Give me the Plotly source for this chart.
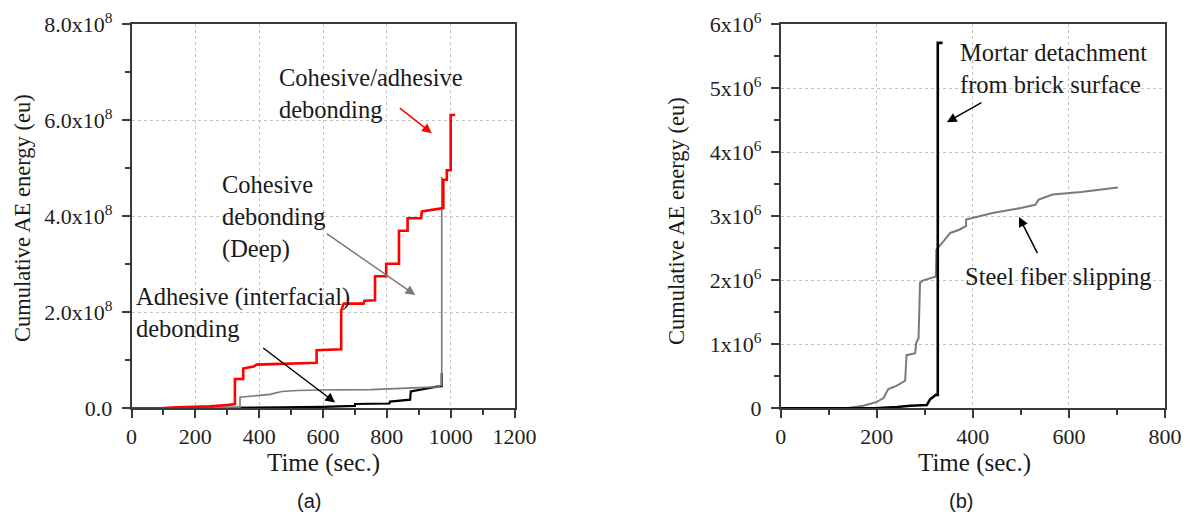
import plotly.graph_objects as go

# ---------------- data: panel (a) ----------------
t_red = [0, 100, 142, 200, 246, 300, 324, 324, 350, 350, 365, 382, 392, 480, 575, 580, 580, 651, 657, 657,
         662, 665, 727, 730, 763, 763, 798, 798, 838, 838, 865, 865, 907, 910, 977, 977, 988, 988, 1000, 1000, 1014]
e_red = [0, 0.003, 0.02, 0.03, 0.04, 0.07, 0.09, 0.61, 0.61, 0.83, 0.85, 0.87, 0.91, 0.93, 0.95, 0.95, 1.21, 1.23, 1.23, 2.04,
         2.12, 2.18, 2.18, 2.24, 2.25, 2.75, 2.75, 3.01, 3.01, 3.70, 3.70, 3.96, 3.96, 4.10, 4.17, 4.76, 4.76, 4.96, 4.96, 6.11, 6.11]

t_gray_a = [0, 200, 340, 340, 380, 434, 471, 520, 591, 748, 904, 962, 964, 970, 972, 972]
e_gray_a = [0, 0.005, 0.02, 0.23, 0.25, 0.29, 0.35, 0.37, 0.38, 0.39, 0.43, 0.45, 0.47, 0.48, 0.48, 4.82]

t_black_a = [0, 300, 470, 600, 650, 700, 700, 808, 810, 873, 875, 904, 957, 970, 972, 972, 975]
e_black_a = [0, 0.005, 0.02, 0.03, 0.04, 0.05, 0.09, 0.10, 0.14, 0.18, 0.35, 0.39, 0.45, 0.46, 0.46, 0.71, 0.71]
scale_a = 1e8

# ---------------- data: panel (b) ----------------
t_gray_b = [0, 137, 172, 200, 214, 224, 241, 259, 262, 280, 282, 287, 290, 297, 323, 324, 338, 353, 372, 386,
            386, 441, 500, 530, 537, 566, 625, 702]
e_gray_b = [0, 0, 0.04, 0.10, 0.16, 0.30, 0.35, 0.43, 0.83, 0.86, 1.02, 1.10, 1.96, 2.00, 2.06, 2.48, 2.60, 2.74, 2.79, 2.85,
            2.95, 3.05, 3.13, 3.18, 3.26, 3.34, 3.38, 3.45]

t_black_b = [0, 194, 242, 270, 304, 311, 318, 323, 327, 327, 337]
e_black_b = [0, 0, 0.02, 0.04, 0.05, 0.14, 0.18, 0.21, 0.21, 5.71, 5.71]
scale_b = 1e6

# tick labels
xticks_a = [0, 200, 400, 600, 800, 1000, 1200]
yticks_a = [0, 2, 4, 6, 8]
yticklabels_a = ["0.0", "2.0x10<sup>8</sup>", "4.0x10<sup>8</sup>", "6.0x10<sup>8</sup>", "8.0x10<sup>8</sup>"]
xticks_b = [0, 200, 400, 600, 800]
yticks_b = [0, 1, 2, 3, 4, 5, 6]
yticklabels_b = ["0"] + ["%dx10<sup>6</sup>" % v for v in yticks_b[1:]]

# page has an 8px body margin: figure is sized to fill the rest of the 1192x519 window
OFF = 8
W, H = 1192 - OFF, 519 - OFF
SERIF = "Liberation Serif"
AX = "#3a3a3a"

fig = go.Figure()
fig.add_trace(go.Scatter(x=t_black_a, y=[v * scale_a for v in e_black_a], mode="lines",
                         line=dict(color="black", width=2.2), xaxis="x", yaxis="y", showlegend=False))
fig.add_trace(go.Scatter(x=t_gray_a, y=[v * scale_a for v in e_gray_a], mode="lines",
                         line=dict(color="#7a7a7a", width=1.6), xaxis="x", yaxis="y", showlegend=False))
fig.add_trace(go.Scatter(x=t_red, y=[v * scale_a for v in e_red], mode="lines",
                         line=dict(color="#ff0000", width=2.6), xaxis="x", yaxis="y", showlegend=False))
fig.add_trace(go.Scatter(x=t_gray_b, y=[v * scale_b for v in e_gray_b], mode="lines",
                         line=dict(color="#7a7a7a", width=2), xaxis="x2", yaxis="y2", showlegend=False))
fig.add_trace(go.Scatter(x=t_black_b, y=[v * scale_b for v in e_black_b], mode="lines",
                         line=dict(color="black", width=2.6), xaxis="x2", yaxis="y2", showlegend=False))


def px(x):
    return (x - OFF) / W


def py(y):
    return 1 - (y - OFF) / H


common = dict(showline=True, linecolor=AX, linewidth=1.5, mirror=True, ticks="outside", ticklen=8,
              tickwidth=1.5, tickcolor=AX, showgrid=True, gridcolor="#c4c4c4", griddash="dot", gridwidth=1,
              zeroline=False, automargin=False, fixedrange=True,
              tickfont=dict(family=SERIF, size=22, color="#222"))
minor_style = dict(ticklen=5, tickwidth=1.5, tickcolor=AX, ticks="outside", showgrid=False)

fig.update_layout(
    template="none",
    width=W, height=H, autosize=False, margin=dict(l=0, r=0, t=0, b=0, pad=0),
    paper_bgcolor="white", plot_bgcolor="white",
    font=dict(family=SERIF, size=22, color="#222"),
    xaxis=dict(domain=[px(131.5), px(514.5)], range=[0, 1200], tickvals=xticks_a, anchor="y",
               minor=dict(dtick=100, **minor_style), **common),
    yaxis=dict(domain=[py(408.3), py(24.3)], range=[0, 8e8],
               tickvals=[v * scale_a for v in yticks_a], ticktext=yticklabels_a, anchor="x",
               ticklabelstandoff=5, minor=dict(dtick=1e8, **minor_style), **common),
    xaxis2=dict(domain=[px(780.7), px(1165)], range=[0, 800], tickvals=xticks_b, anchor="y2",
                minor=dict(dtick=100, **minor_style), **common),
    yaxis2=dict(domain=[py(408.3), py(24.3)], range=[0, 6e6],
                tickvals=[v * scale_b for v in yticks_b], ticktext=yticklabels_b, anchor="x2",
                ticklabelstandoff=5, minor=dict(dtick=0.5e6, **minor_style), **common),
)

tfont = dict(family=SERIF, size=24.5, color="#1a1a1a")
anns = []
# axis titles
for cx in (323, 974):
    anns.append(dict(text="Time (sec.)", x=px(cx), y=py(463), xref="paper", yref="paper",
                     xanchor="center", yanchor="middle",
                     showarrow=False, font=dict(family=SERIF, size=25, color="#1a1a1a")))
for cx, cy in ((22, 218), (677, 221)):
    anns.append(dict(text="Cumulative AE energy (eu)", x=px(cx), y=py(cy), xref="paper", yref="paper",
                     xanchor="center", yanchor="middle",
                     showarrow=False, textangle=-90, font=dict(family=SERIF, size=22.5, color="#1a1a1a")))
# captions
for cx, lab in ((309, "(a)"), (961, "(b)")):
    anns.append(dict(text=lab, x=px(cx), y=py(501), xref="paper", yref="paper", showarrow=False,
                     xanchor="center", yanchor="middle",
                     font=dict(family="Liberation Sans", size=20, color="#1a1a1a")))
# labels
labels = [
    ("Cohesive/adhesive<br>debonding", 277, 62),
    ("Cohesive<br>debonding<br>(Deep)", 220, 169),
    ("Adhesive (interfacial)<br>debonding", 134, 281),
    ("Mortar detachment<br>from brick surface", 958, 37),
    ("Steel fiber slipping", 963, 261),
]
for text, lx, ly in labels:
    anns.append(dict(text=text, x=px(lx), y=py(ly), xref="paper", yref="paper", xanchor="left",
                     yanchor="top", align="left", showarrow=False, font=tfont))
# arrows (head x,y ; tail ax,ay) in data coordinates
arrows = [
    ("x", "y", 941, 5.73e8, 836, 6.28e8, "#ff0000"),
    ("x", "y", 889, 2.36e8, 607, 3.66e8, "#7a7a7a"),
    ("x", "y", 638, 0.12e8, 408, 1.28e8, "black"),
    ("x2", "y2", 346, 4.47e6, 421, 4.79e6, "black"),
    ("x2", "y2", 496, 2.99e6, 536, 2.40e6, "black"),
]
for xr, yr, hx, hy, tx, ty, col in arrows:
    anns.append(dict(text="", x=hx, y=hy, ax=tx, ay=ty, xref=xr, yref=yr, axref=xr, ayref=yr,
                     showarrow=True, arrowhead=2, arrowsize=1.3, arrowwidth=1.5, arrowcolor=col))
fig.update_layout(annotations=anns)

fig.write_html("out.html")
